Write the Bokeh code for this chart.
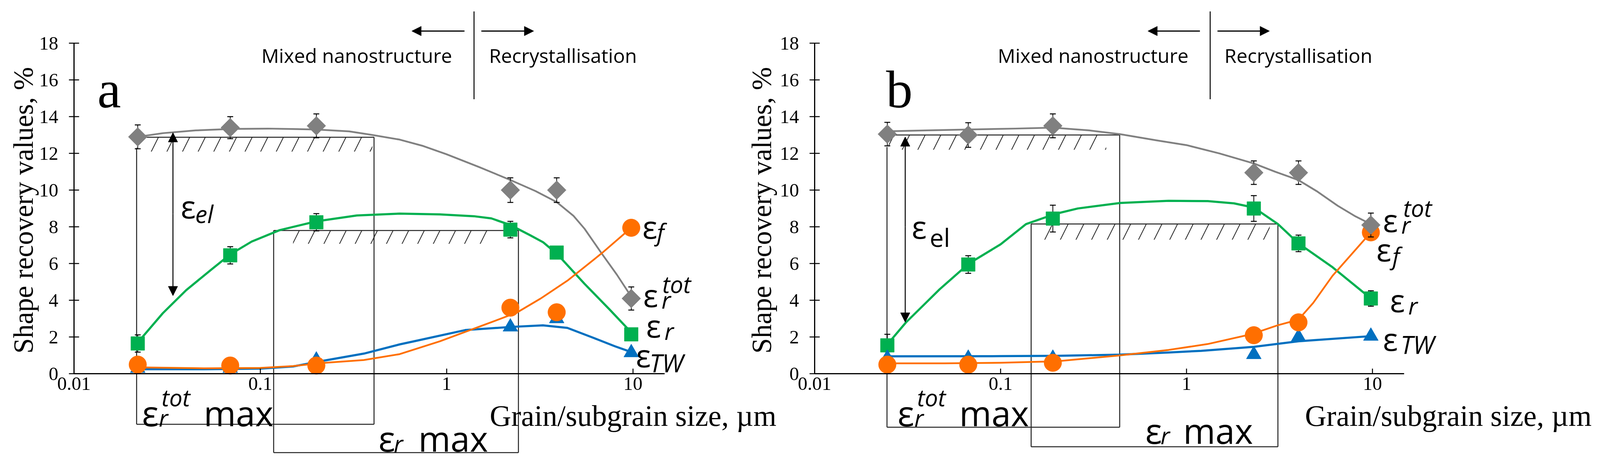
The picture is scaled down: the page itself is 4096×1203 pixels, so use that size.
import numpy as np
from bokeh.plotting import figure
from bokeh.models import (Range1d, LogScale, LinearAxis, FixedTicker,
                          CustomJSTickFormatter, Arrow, NormalHead, Label)
from bokeh.embed import file_html
from bokeh.resources import INLINE

# ---------------- data ----------------
x_ticks = [0.01, 0.1, 1, 10]
x_tick_labels = ["0.01", "0.1", "1", "10"]
y_ticks = [0, 2, 4, 6, 8, 10, 12, 14, 16, 18]

# panel a : measured points
size_a = [0.022, 0.069, 0.2, 2.2, 3.9, 9.8]
eps_tot_a = [12.9, 13.4, 13.5, 10.0, 10.0, 4.1]
eps_tot_err_a = [0.65, 0.6, 0.65, 0.67, 0.67, 0.63]
eps_r_a = [1.65, 6.45, 8.25, 7.85, 6.6, 2.15]
eps_r_err_a = [0.47, 0.47, 0.47, 0.45, 0.3, 0.0]
eps_f_a = [0.5, 0.45, 0.45, 3.6, 3.35, 7.95]
eps_tw_a = [0.3, 0.3, 0.75, 2.55, 3.0, 1.15]

# panel a : trend curves
curve_tot_a_x = [0.022, 0.03, 0.045, 0.07, 0.11, 0.2, 0.3, 0.4, 0.56, 0.75, 1.0, 1.5, 2.2, 3.0, 3.9, 4.8, 5.5, 6.8, 8.2, 9.8]
curve_tot_a_y = [12.9, 13.1, 13.25, 13.33, 13.35, 13.3, 13.2, 13.0, 12.75, 12.4, 11.95, 11.25, 10.55, 9.95, 9.35, 8.6, 7.9, 6.55, 5.4, 4.2]
curve_r_a_x = [0.022, 0.03, 0.04, 0.055, 0.069, 0.09, 0.127, 0.2, 0.33, 0.56, 0.92, 1.4, 1.74, 2.2, 2.8, 3.3, 3.94, 5.5, 7.5, 9.8]
curve_r_a_y = [1.7, 3.3, 4.55, 5.7, 6.5, 7.2, 7.82, 8.3, 8.62, 8.72, 8.68, 8.58, 8.46, 8.1, 7.55, 7.16, 6.5, 4.9, 3.5, 2.25]
curve_f_a_x = [0.022, 0.05, 0.1, 0.15, 0.21, 0.36, 0.56, 0.92, 1.74, 2.39, 3.2, 4.45, 6.8, 9.8]
curve_f_a_y = [0.35, 0.3, 0.32, 0.42, 0.58, 0.75, 1.07, 1.77, 2.81, 3.34, 4.1, 5.07, 6.56, 7.95]
curve_tw_a_x = [0.022, 0.05, 0.1, 0.15, 0.21, 0.36, 0.56, 0.67, 1.26, 2.2, 3.29, 4.45, 6.2, 8.0, 9.7]
curve_tw_a_y = [0.25, 0.25, 0.28, 0.4, 0.68, 1.1, 1.6, 1.77, 2.38, 2.55, 2.64, 2.5, 1.94, 1.5, 1.2]

# panel b : measured points
size_b = [0.0246, 0.067, 0.191, 2.3, 4.0, 9.8]
eps_tot_b = [13.05, 13.0, 13.5, 10.95, 10.95, 8.1]
eps_tot_err_b = [0.64, 0.67, 0.65, 0.64, 0.64, 0.65]
eps_r_b = [1.55, 5.95, 8.45, 9.0, 7.1, 4.1]
eps_r_err_b = [0.6, 0.48, 0.73, 0.7, 0.45, 0.42]
eps_f_b = [0.5, 0.5, 0.6, 2.1, 2.8, 7.7]
eps_tw_b = [0.85, 0.85, 0.85, 1.05, 2.0, 2.05]

# panel b : trend curves
curve_tot_b_x = [0.0246, 0.04, 0.067, 0.12, 0.191, 0.3, 0.437, 0.7, 1.0, 1.5, 2.3, 3.0, 3.99, 5.0, 6.5, 8.0, 9.78]
curve_tot_b_y = [13.2, 13.25, 13.3, 13.35, 13.4, 13.25, 13.05, 12.7, 12.45, 12.0, 11.45, 11.0, 10.55, 9.95, 9.15, 8.6, 8.15]
curve_r_b_x = [0.0246, 0.031, 0.04, 0.047, 0.0675, 0.1, 0.137, 0.196, 0.26, 0.44, 0.8, 1.3, 1.8, 2.3, 3.1, 4.0, 6.1, 9.8]
curve_r_b_y = [1.6, 2.8, 3.9, 4.6, 6.0, 7.05, 8.15, 8.7, 9.0, 9.3, 9.42, 9.4, 9.28, 9.05, 8.15, 7.1, 5.8, 4.1]
curve_f_b_x = [0.0246, 0.05, 0.1, 0.2, 0.437, 0.8, 1.3, 2.24, 3.09, 4.0, 4.8, 6.1, 7.8, 9.8]
curve_f_b_y = [0.57, 0.57, 0.6, 0.68, 1.0, 1.3, 1.62, 2.16, 2.64, 2.95, 3.86, 5.34, 6.56, 7.7]
curve_tw_b_x = [0.0246, 0.1, 0.2, 0.437, 0.8, 1.2, 2.3, 4.0, 9.8]
curve_tw_b_y = [0.95, 0.96, 0.98, 1.04, 1.16, 1.25, 1.47, 1.77, 2.05]

# ---------------- style ----------------
C_TOT = "#808080"
C_R = "#00b050"
C_F = "#ff6f00"
C_TW = "#0070c0"
SERIF = "Liberation Serif"
SANS = "Open Sans"

# ---------------- figure (one canvas, two log ranges) ----------------
p = figure(width=4080, height=1187, x_axis_type="log",
           x_range=Range1d(10 ** -2.3958, 10 ** 6.1582),
           y_range=Range1d(-4.908, 20.340),
           x_axis_location=None, y_axis_location=None,
           output_backend="svg", toolbar_location=None, min_border=0,
           outline_line_color=None, background_fill_color="white",
           border_fill_color="white")
p.extra_x_ranges = {"b": Range1d(10 ** -6.3798, 10 ** 2.1909)}
p.extra_x_scales = {"b": LogScale()}
p.grid.visible = False


def add_axes(rn):
    fmt = CustomJSTickFormatter(args=dict(tvals=x_ticks, tlabs=x_tick_labels),
                                code="const i = tvals.indexOf(tick); return i >= 0 ? tlabs[i] : String(tick);")
    xax = LinearAxis(x_range_name=rn, fixed_location=0, bounds=(0.01, 14.8),
                     ticker=FixedTicker(ticks=x_ticks), formatter=fmt)
    yax = LinearAxis(x_range_name=rn, fixed_location=0.01, bounds=(0, 18),
                     ticker=FixedTicker(ticks=y_ticks))
    for ax in (xax, yax):
        ax.axis_line_width = 3
        ax.axis_line_color = "black"
        ax.major_tick_line_width = 2.5
        ax.major_tick_line_color = "black"
        ax.minor_tick_line_color = None
        ax.major_label_text_font = SERIF
        ax.major_label_text_font_size = "49px"
        ax.major_label_text_color = "black"
    xax.major_tick_in = 13
    xax.major_tick_out = 0
    xax.major_label_standoff = 9
    yax.major_tick_in = 13
    yax.major_tick_out = 13
    yax.major_label_standoff = 27
    p.add_layout(xax, "below")
    p.add_layout(yax, "left")


def txt(x, y, s, rn="default", size=80, font=SANS, style="normal", dx=0, dy=0,
        align="left", baseline="alphabetic", angle=0.0):
    lift = 0.2 * size if angle == 0.0 else 0.0
    p.add_layout(Label(x=x, y=y, x_range_name=rn, text=s, text_font=font,
                       text_font_size=f"{size}px", text_font_style=style,
                       x_offset=dx, y_offset=dy + lift, text_align=align,
                       text_baseline=baseline, angle=angle, text_color="black"))


def arrow(x0, y0, x1, y1, rn, size=24, width=3):
    p.add_layout(Arrow(x_start=x0, y_start=y0, x_end=x1, y_end=y1, x_range_name=rn,
                       line_color="black", line_width=width,
                       end=NormalHead(size=size, fill_color="black", line_color="black", line_width=1)))


def panel(rn, size, tot, tot_err, r, r_err, f, tw, curves, ann):
    # hatched strips
    hl, hr, hb, ht = ann["hatch"]
    p.quad(left=hl, right=hr, bottom=hb, top=ht, x_range_name=rn,
           fill_color=None, line_color=None, hatch_pattern="/",
           hatch_color="#333333", hatch_scale=80, hatch_weight=2.2)
    # construction lines / boxes
    x0, y0, x1, y1 = ann["segs"]
    p.segment(x0=x0, y0=y0, x1=x1, y1=y1, x_range_name=rn,
              line_color="#222222", line_width=2.5)
    # top separator + arrows
    sx, sy0, sy1 = ann["sep"]
    p.segment(x0=[sx], y0=[sy0], x1=[sx], y1=[sy1], x_range_name=rn,
              line_color="black", line_width=2.5)
    ay = ann["arrow_y"]
    arrow(ann["arrow_l"][0], ay, ann["arrow_l"][1], ay, rn)
    arrow(ann["arrow_r"][0], ay, ann["arrow_r"][1], ay, rn)
    ex, emid, etop, ebot = ann["el_arrow"]
    arrow(ex, emid, ex, etop, rn, size=24, width=2.5)
    arrow(ex, emid, ex, ebot, rn, size=24, width=2.5)

    (ctx, cty), (crx, cry), (cfx, cfy), (cwx, cwy) = curves
    size = np.array(size)
    tot = np.array(tot); tot_err = np.array(tot_err)
    r = np.array(r); r_err = np.array(r_err)

    # curves
    p.line(ctx, cty, x_range_name=rn, line_color=C_TOT, line_width=4.5, line_join="round")
    p.line(crx, cry, x_range_name=rn, line_color=C_R, line_width=5.5, line_join="round")
    p.line(cwx, cwy, x_range_name=rn, line_color=C_TW, line_width=5.5, line_join="round")
    p.line(cfx, cfy, x_range_name=rn, line_color=C_F, line_width=4.5, line_join="round")

    # eps_r markers + error bars
    m = r_err > 0
    p.segment(x0=size[m], y0=(r - r_err)[m], x1=size[m], y1=(r + r_err)[m], x_range_name=rn,
              line_color="black", line_width=2)
    p.scatter(np.r_[size[m], size[m]], np.r_[(r - r_err)[m], (r + r_err)[m]], marker="dash",
              size=15, line_color="black", line_width=2.5, x_range_name=rn)
    p.scatter(size, r, marker="square", size=35, x_range_name=rn,
              fill_color=C_R, line_color=C_R)
    # eps_TW and eps_f markers
    p.scatter(size, tw, marker="triangle", size=38, x_range_name=rn,
              fill_color=C_TW, line_color=C_TW)
    p.scatter(size, f, marker="circle", size=45, x_range_name=rn,
              fill_color=C_F, line_color=C_F)
    # eps_r^tot markers + error bars on top
    p.segment(x0=size, y0=tot - tot_err, x1=size, y1=tot + tot_err, x_range_name=rn,
              line_color="black", line_width=2)
    p.scatter(np.r_[size, size], np.r_[tot - tot_err, tot + tot_err], marker="dash",
              size=15, line_color="black", line_width=2.5, x_range_name=rn)
    p.scatter(size, tot, marker="square", angle=np.pi / 4, size=34, x_range_name=rn,
              fill_color=C_TOT, line_color=C_TOT)


add_axes("default")
add_axes("b")

panel("default", size_a, eps_tot_a, eps_tot_err_a, eps_r_a, eps_r_err_a, eps_f_a, eps_tw_a,
      [(curve_tot_a_x, curve_tot_a_y), (curve_r_a_x, curve_r_a_y),
       (curve_f_a_x, curve_f_a_y), (curve_tw_a_x, curve_tw_a_y)],
      dict(hatch=([0.0235, 0.15], [0.40, 1.8], [12.1, 7.08], [12.88, 7.8]),
           segs=([0.0217, 0.0217, 0.408, 0.0217, 0.118, 0.118, 2.43, 0.118],
                 [12.3, 12.88, 12.88, -2.75, 7.8, 7.8, 7.8, -4.29],
                 [0.0217, 0.408, 0.408, 0.408, 2.43, 0.118, 2.43, 2.43],
                 [-2.75, 12.88, -2.75, -2.75, 7.8, -4.29, -4.29, -4.29]),
           sep=(1.404, 19.73, 14.95), arrow_y=18.66,
           arrow_l=(1.248, 0.6507), arrow_r=(1.537, 2.935),
           el_arrow=(0.0340, 8.7, 13.13, 4.25)))

panel("b", size_b, eps_tot_b, eps_tot_err_b, eps_r_b, eps_r_err_b, eps_f_b, eps_tw_b,
      [(curve_tot_b_x, curve_tot_b_y), (curve_r_b_x, curve_r_b_y),
       (curve_f_b_x, curve_f_b_y), (curve_tw_b_x, curve_tw_b_y)],
      dict(hatch=([0.025, 0.16], [0.37, 2.8], [12.2, 7.3], [13.0, 8.16]),
           segs=([0.0245, 0.0245, 0.437, 0.0245, 0.146, 0.146, 3.1, 0.146],
                 [12.35, 13.0, 13.0, -2.91, 8.16, 8.16, 8.16, -3.97],
                 [0.0245, 0.437, 0.437, 0.437, 3.1, 0.146, 3.1, 3.1],
                 [-2.91, 13.0, -2.91, -2.91, 8.16, -3.97, -3.97, -3.97]),
           sep=(1.340, 19.73, 14.95), arrow_y=18.66,
           arrow_l=(1.180, 0.6199), arrow_r=(1.467, 2.792),
           el_arrow=(0.0307, 8.0, 12.9, 2.81)))

# ---------------- texts ----------------
for rn, xl, yl_x, xlab_x in (("default", 0.01335, 0.005357, 1.705), ("b", 0.0242, 0.005194, 4.334)):
    txt(xl, 14.91, "a" if rn == "default" else "b", rn, size=136, font=SERIF)
    txt(yl_x, 8.9, "Shape recovery values, %", rn, size=71, font=SERIF,
        align="center", baseline="middle", angle=np.pi / 2)
    txt(xlab_x, -2.61, "Grain/subgrain size, µm", rn, size=76, font=SERIF)

txt(0.1014, 17.12, "Mixed nanostructure", "default", size=50)
txt(1.690, 17.12, "Recrystallisation", "default", size=50)
txt(0.09652, 17.12, "Mixed nanostructure", "b", size=50)
txt(1.599, 17.12, "Recrystallisation", "b", size=50)

# eps_el
txt(0.03742, 8.79, "ε", "default", size=80)
txt(0.03742, 8.79, "el", "default", size=62, style="italic", dx=37, dy=-16)
txt(0.03327, 7.69, "ε", "b", size=80)
txt(0.03327, 7.69, "el", "b", size=64, dx=46, dy=-25)

# box labels
for rn, x_tot, x_r, y_r, max_dx in (("default", 0.02318, 0.4311, -3.89, 102),
                                    ("b", 0.02792, 0.6005, -3.45, 97)):
    txt(x_tot, -2.49, "ε", rn, size=89)
    txt(x_tot, -2.49, "r", rn, size=60, style="italic", dx=43, dy=-7)
    txt(x_tot, -2.49, "tot", rn, size=60, style="italic", dx=50, dy=45)
    txt(x_tot, -2.49, "max", rn, size=89, dx=158)
    txt(x_r, y_r, "ε", rn, size=89)
    txt(x_r, y_r, "r", rn, size=60, style="italic", dx=39, dy=-7)
    txt(x_r, y_r, "max", rn, size=89, dx=max_dx)

# series labels panel a
txt(11.25, 7.69, "ε", "default", size=80)
txt(11.25, 7.69, "f", "default", size=60, style="italic", dx=37, dy=-11)
txt(11.35, 3.97, "ε", "default", size=80)
txt(11.35, 3.97, "r", "default", size=60, style="italic", dx=47, dy=-9)
txt(11.35, 3.97, "tot", "default", size=60, style="italic", dx=49, dy=31)
txt(11.77, 2.31, "ε", "default", size=80)
txt(11.77, 2.31, "r", "default", size=60, style="italic", dx=47, dy=-11)
txt(10.37, 0.68, "ε", "default", size=80)
txt(10.37, 0.68, "TW", "default", size=64, style="italic", dx=35, dy=-17)

# series labels panel b
txt(11.38, 8.05, "ε", "b", size=80)
txt(11.38, 8.05, "r", "b", size=60, style="italic", dx=47, dy=-9)
txt(11.38, 8.05, "tot", "b", size=60, style="italic", dx=52, dy=34)
txt(10.49, 6.46, "ε", "b", size=80)
txt(10.49, 6.46, "f", "b", size=60, style="italic", dx=41, dy=-14)
txt(12.41, 3.69, "ε", "b", size=80)
txt(12.41, 3.69, "r", "b", size=60, style="italic", dx=47, dy=-11)
txt(11.38, 1.59, "ε", "b", size=80)
txt(11.38, 1.59, "TW", "b", size=64, style="italic", dx=45, dy=-12)

open("out.html", "w").write(file_html(p, INLINE, "Shape recovery"))
